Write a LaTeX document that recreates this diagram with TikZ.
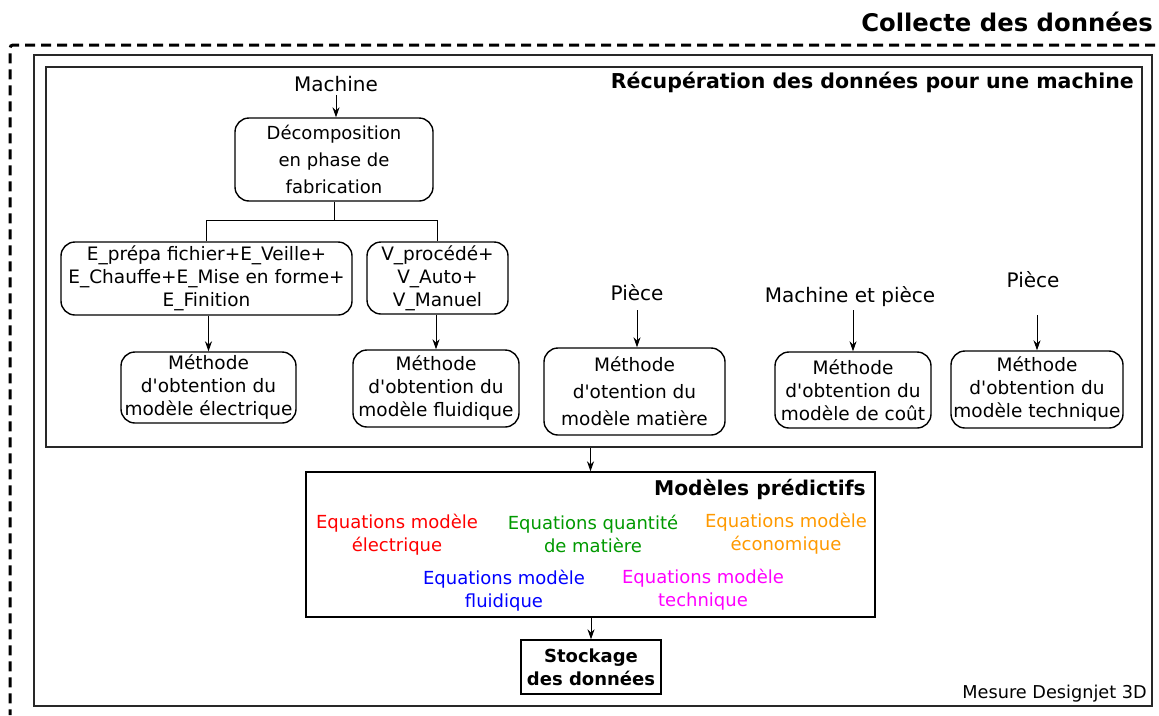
\documentclass[tikz,border=0pt]{standalone}
\usepackage{fontspec}
\setmainfont{DejaVu Sans}
\usetikzlibrary{arrows.meta,positioning,calc}
\usepackage{xcolor}
\definecolor{frameg}{RGB}{40,40,40}
\definecolor{eqred}   {RGB}{255,0,0}
\definecolor{eqgreen} {RGB}{0,153,0}
\definecolor{eqorange}{RGB}{255,153,0}
\definecolor{eqblue}  {RGB}{0,0,255}
\definecolor{eqpink}  {RGB}{255,0,255}
\newcommand{\sq}{\textquotesingle}

\begin{document}
\begin{tikzpicture}[
    x=1pt,y=-1pt,
    box/.style={rectangle,rounded corners=14pt,draw=black,line width=1.4pt,
                inner sep=0pt,align=center,font=\fontsize{18.5}{23}\selectfont},
    sqbox/.style={rectangle,draw=black,line width=1.4pt,inner sep=0pt,align=center},
    frame/.style={rectangle,draw=frameg,line width=1.4pt,inner sep=0pt},
    arrow/.style={-{Stealth[length=10pt,width=7pt]},line width=0.9pt,black},
    tree/.style={line width=0.9pt,black},
    label/.style={font=\fontsize{20}{24}\selectfont,inner sep=3pt},
    title/.style={font=\bfseries\fontsize{20.3}{24}\selectfont,inner sep=0pt,anchor=base east},
    eq/.style={font=\fontsize{18}{23}\selectfont,align=center,inner sep=0pt},
    dashframe/.style={line width=3pt,dash pattern=on 10pt off 6pt,rounded corners=3pt}
  ]
    \useasboundingbox (0,0) rectangle (1159,715);

    % frames
    \draw[dashframe] (1155,45) -- (10,45) -- (10,715);
    \node[title,font=\bfseries\fontsize{24.3}{28}\selectfont] (tcol) at (1153,31) {Collecte des données};
    \node[frame,minimum width=1118pt,minimum height=651pt] (col)   at (593,380.5) {};
    \node[frame,minimum width=1096pt,minimum height=380pt] (recup) at (594,257) {};
    \node[title,font=\bfseries\fontsize{20.5}{24}\selectfont] (trec) at (1134,88) {Récupération des données pour une machine};
    \node[font=\fontsize{17.7}{21}\selectfont,inner sep=0pt,anchor=base east] (mes) at (1147,698) {Mesure Designjet 3D};

    % machine branch
    \node[label] (mach) at (336,84) {Machine};
    \node[box,minimum width=198pt,minimum height=83pt,font=\fontsize{18}{27}\selectfont] (dec) at (334,159.5)
         {Décomposition\\en phase de\\fabrication};
    \node[box,minimum width=291pt,minimum height=73pt] (ebox) at (206.5,278.5)
         {E\_prépa fichier+E\_Veille+\\E\_Chauffe+E\_Mise en forme+\\E\_Finition};
    \node[box,minimum width=141pt,minimum height=72pt] (vbox) at (437.5,278)
         {V\_procédé+\\V\_Auto+\\V\_Manuel};
    \node[box,minimum width=175pt,minimum height=71pt] (elec) at (208.5,387.5)
         {Méthode\\d\sq obtention du\\modèle électrique};
    \node[box,minimum width=166pt,minimum height=77pt] (flu) at (436,388.5)
         {Méthode\\d\sq obtention du\\modèle fluidique};

    \draw[arrow] (mach) -- (mach |- dec.north);
    \coordinate (split) at ($(dec.south)+(0,19)$);
    \draw[tree] (dec.south) -- (split) -| (ebox.north);
    \draw[tree] (split) -| (vbox.north);
    \draw[arrow] (elec.north |- ebox.south) -- (elec.north);
    \draw[arrow] (flu.north |- vbox.south) -- (flu.north);

    % other models
    \node[label] (pc1) at (637,293) {Pièce};
    \node[label] (mp)  at (850,297) {Machine et pièce};
    \node[label] (pc2) at (1033,280) {Pièce};
    \node[box,minimum width=181pt,minimum height=87pt,font=\fontsize{18.5}{27}\selectfont] (mat) at (634.5,391.5)
         {Méthode\\d\sq otention du\\modèle matière};
    \node[box,minimum width=156pt,minimum height=76pt] (cout) at (853,390)
         {Méthode\\d\sq obtention du\\modèle de coût};
    \node[box,minimum width=172pt,minimum height=77pt] (tech) at (1037,389.5)
         {Méthode\\d\sq obtention du\\modèle technique};

    \draw[arrow,shorten <=6pt] (pc1) -- (pc1 |- mat.north);
    \draw[arrow] (cout.north |- mp.south) -- (cout.north);
    \draw[arrow,shorten <=24pt] (tech.north |- pc2.south) -- (tech.north);

    % predictive models
    \node[sqbox,minimum width=569pt,minimum height=145pt] (pred) at (590.5,544.5) {};
    \node[title] (tpred) at (866,495) {Modèles prédictifs};
    \node[eq,text=eqred]    (eqe) at (397,535) {Equations modèle\\électrique};
    \node[eq,text=eqgreen]  (eqm) at (593,534) {Equations quantité\\de matière};
    \node[eq,text=eqorange] (eqc) at (786,534) {Equations modèle\\économique};
    \node[eq,text=eqblue]   (eqf) at (504,591) {Equations modèle\\fluidique};
    \node[eq,text=eqpink]   (eqt) at (703,589.5) {Equations modèle\\technique};
    \node[sqbox,minimum width=140pt,minimum height=54pt,font=\bfseries\fontsize{18}{23}\selectfont] (sto) at (591,667)
         {Stockage\\des données};

    \draw[arrow] (pred.north |- recup.south) -- (pred.north);
    \draw[arrow] (sto.north |- pred.south) -- (sto.north);
  \end{tikzpicture}
\end{document}
